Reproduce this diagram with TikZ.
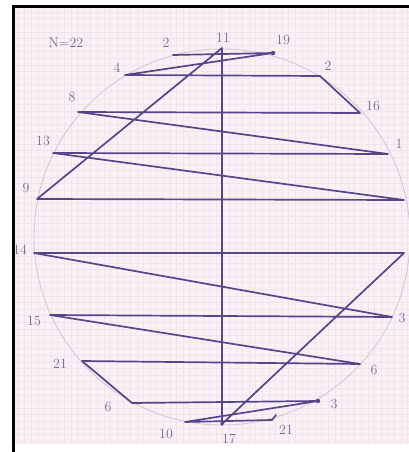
\documentclass[tikz,border=0pt]{standalone}
\usepackage{tikz}
\usetikzlibrary{positioning}
\definecolor{ink}{RGB}{85,70,138}
\definecolor{pencil}{RGB}{120,105,150}
\definecolor{paper}{RGB}{250,241,246}
\definecolor{gridline}{RGB}{243,228,236}
\definecolor{rim}{RGB}{214,200,210}

\begin{document}
\begin{tikzpicture}[x=1pt,y=-1pt,
  chord/.style={draw=ink,line width=1.7pt,line join=round,line cap=round},
  num/.style={text=pencil,font=\fontsize{14}{14}\selectfont,inner sep=1pt}]
  \useasboundingbox (0,0) rectangle (409,452);
  \fill[white] (0,0) rectangle (409,452);
  % squared paper
  \fill[paper] (15,8) rectangle (409,444);
  \foreach \gx in {18,24.6,...,409} \draw[gridline,line width=0.35pt] (\gx,8) -- (\gx,444);
  \foreach \gy in {12,18.6,...,444} \draw[gridline,line width=0.35pt] (15,\gy) -- (409,\gy);
  \draw[line width=3pt] (13.5,452) -- (13.5,6.5) -- (409,6.5);

  % circle
  \coordinate (c) at (222,237);
  \draw[rim,line width=0.9pt] (c) circle[radius=188pt];

  % points
  \coordinate (p2) at (173,55);
  \coordinate (p19) at (273,53);
  \coordinate (p4) at (125,75);
  \coordinate (p12) at (320,76);
  \coordinate (p16) at (360,113);
  \coordinate (p8) at (78,112);
  \coordinate (p1) at (388,154);
  \coordinate (p13) at (53,153);
  \coordinate (pr) at (404,200);
  \coordinate (p9) at (37,199);
  \coordinate (p11) at (222,48);
  \coordinate (p17) at (222,424);
  \coordinate (pq) at (404,253);
  \coordinate (p14) at (34,253);
  \coordinate (p3) at (392,317);
  \coordinate (p15) at (50,315);
  \coordinate (p6) at (360,364);
  \coordinate (p21) at (82,361);
  \coordinate (p6b) at (132,403);
  \coordinate (p3b) at (318,401);
  \coordinate (p10) at (185,422);
  \coordinate (p21b) at (272,420);
  \coordinate (tick) at (276,415);

  % the chain
  \draw[chord] (p2) -- (p19) -- (p4) -- (p12) -- (p16) -- (p8) -- (p1) -- (p13)
    -- (pr) -- (p9) -- (p11);
  \draw[chord,line width=1.3pt] (p11) -- (p17);
  \draw[chord] (p17) -- (pq) -- (p14) -- (p3) -- (p15) -- (p6) -- (p21) -- (p6b)
    -- (p3b) -- (p10) -- (p21b) -- (tick);
  \fill[ink] (p19) circle[radius=2.2pt];
  \fill[ink] (p3b) circle[radius=2.2pt];
  \fill[ink] (p17) circle[radius=1.8pt];

  % labels
  \node[num] (nn) at (66,43) {N=22};
  \node[num] (l2) at (166,43) {2};
  \node[num] (l11) at (223,38) {11};
  \node[num] (l19) at (283,40) {19};
  \node[num] (l4) at (117,68) {4};
  \node[num] (l12) at (328,66) {2};
  \node[num] (l8) at (72,97) {8};
  \node[num] (l16) at (373,106) {16};
  \node[num] (l13) at (43,141) {13};
  \node[num] (l1) at (399,144) {1};
  \node[num] (l9) at (26,188) {9};
  \node[num] (l14) at (20,250) {14};
  \node[num] (l15) at (34,321) {15};
  \node[num] (l3) at (402,318) {3};
  \node[num] (l21) at (60,364) {21};
  \node[num] (l6) at (374,370) {6};
  \node[num] (l6b) at (108,407) {6};
  \node[num] (l3b) at (334,404) {3};
  \node[num] (l10) at (166,434) {10};
  \node[num] (l17) at (229,439) {17};
  \node[num] (l21b) at (286,430) {21};
\end{tikzpicture}
\end{document}
